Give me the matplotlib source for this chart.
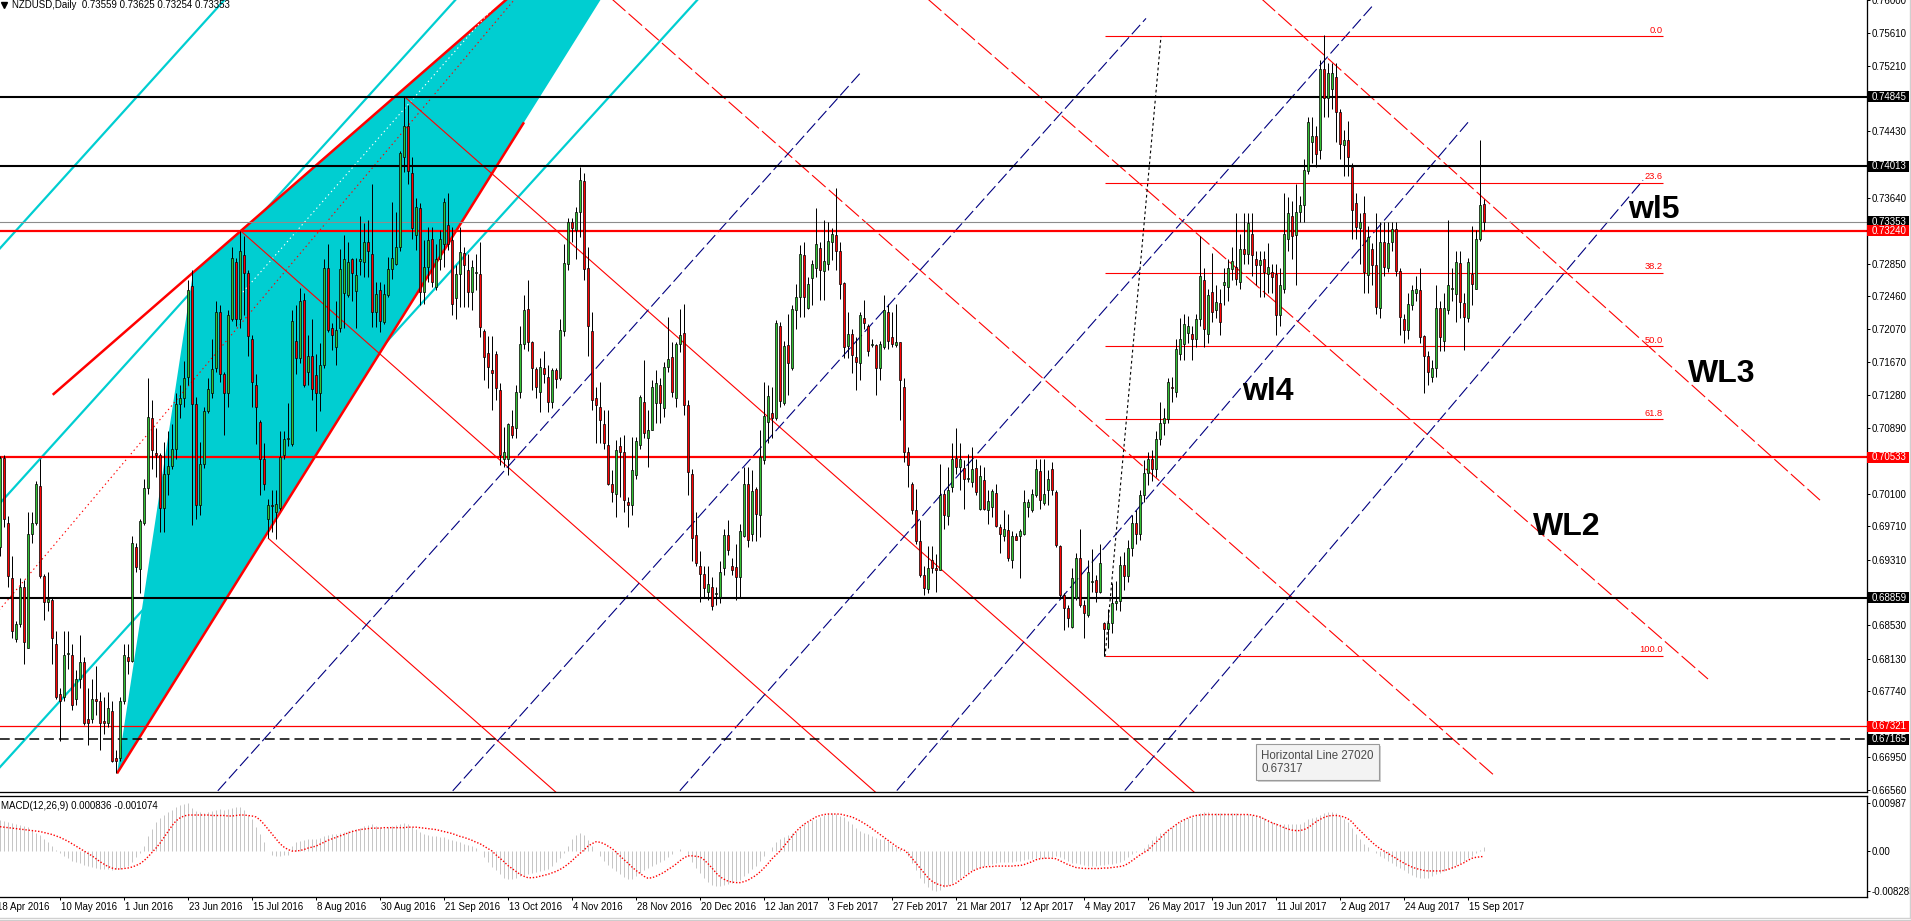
import numpy as np
import matplotlib
matplotlib.use("Agg")
import matplotlib.pyplot as plt
import matplotlib.transforms as mtrans
from matplotlib.patches import Polygon, Rectangle
from matplotlib.lines import Line2D

# ---------------- data (prices in pips, bar 1 = 19 Apr 2016) ----------------
opens = [
    6946, 7053, 6975, 6909, 6836, 6854, 6899, 6825, 6962, 6975,
    7019, 6912, 6880, 6883, 6830, 6770, 6767, 6818, 6817, 6765,
    6789, 6809, 6741, 6741, 6765, 6762, 6738, 6736, 6750, 6694,
    6694, 6762, 6815, 6810, 6946, 6920, 6975, 7017, 7101, 7059,
    7056, 6993, 7033, 7043, 7064, 7117, 7124, 7150, 7258, 7117,
    6996, 7046, 7109, 7130, 7160, 7227, 7153, 7130, 7219, 7287,
    7219, 7295, 7274, 7195, 7140, 7096, 7051, 6980, 6996, 6988,
    6993, 7056, 7075, 7069, 7193, 7172, 7241, 7156, 7174, 7152,
    7130, 7164, 7280, 7208, 7185, 7208, 7250, 7248, 7290, 7252,
    7288, 7287, 7311, 7297, 7227, 7253, 7215, 7247, 7278, 7285,
    7305, 7412, 7449, 7393, 7319, 7351, 7251, 7281, 7315, 7257,
    7291, 7309, 7331, 7313, 7244, 7272, 7298, 7277, 7251, 7274,
    7273, 7205, 7178, 7158, 7177, 7134, 7052, 7052, 7091, 7088,
    7132, 7189, 7231, 7191, 7159, 7132, 7160, 7150, 7120, 7158,
    7148, 7205, 7285, 7335, 7325, 7347, 7384, 7280, 7205, 7124,
    7114, 7093, 7068, 7022, 7010, 7067, 7060, 7000, 6997, 7032,
    7068, 7120, 7076, 7086, 7118, 7140, 7113, 7162, 7173, 7124,
    7189, 7202, 7116, 7033, 6961, 6924, 6914, 6893, 6899, 6890,
    6887, 6921, 6961, 6923, 6922, 6910, 6960, 7021, 6962, 7016,
    6985, 7050, 7096, 7107, 7100, 7211, 7118, 7188, 7160, 7229,
    7245, 7295, 7232, 7268, 7280, 7304, 7276, 7284, 7311, 7319,
    7300, 7262, 7186, 7201, 7173, 7166, 7220, 7210, 7188, 7188,
    7160, 7185, 7227, 7197, 7188, 7191, 7138, 7060, 7021, 6990,
    6953, 6913, 6896, 6931, 6921, 6919, 7010, 6983, 7018, 7053,
    7042, 7041, 7028, 7024, 7041, 6992, 7026, 6991, 6994, 7011,
    6970, 6959, 6967, 6931, 6959, 6959, 6962, 6994, 6990, 7008,
    7037, 6999, 7014, 7040, 7012, 6947, 6889, 6873, 6851, 6885,
    6933, 6877, 6865, 6905, 6907, 6893, 6856, 6848, 6855, 6879,
    6882, 6925, 6912, 6945, 6975, 6962, 7008, 7035, 7052, 7040,
    7075, 7095, 7099, 7137, 7132, 7177, 7189, 7202, 7201, 7195,
    7219, 7265, 7201, 7251, 7229, 7238, 7260, 7257, 7279, 7281,
    7263, 7303, 7297, 7321, 7291, 7283, 7290, 7273, 7275, 7273,
    7223, 7255, 7314, 7342, 7319, 7347, 7355, 7396, 7430, 7437,
    7421, 7518, 7483, 7494, 7508, 7466, 7427, 7433, 7400, 7357,
    7327, 7346, 7271, 7303, 7283, 7232, 7311, 7280, 7311, 7326,
    7276, 7219, 7206, 7235, 7250, 7254, 7198, 7175, 7150, 7160,
    7232, 7193, 7230, 7255, 7249, 7286, 7238, 7220, 7272, 7255,
    7315, 7356,
]
highs = [
    7055, 7056, 6983, 6935, 6858, 6909, 6907, 6988, 6988, 7025,
    7052, 6914, 6917, 6885, 6846, 6778, 6846, 6846, 6830, 6799,
    6841, 6815, 6778, 6788, 6804, 6773, 6767, 6773, 6762, 6704,
    6767, 6830, 6830, 6959, 6951, 6980, 7027, 7148, 7122, 7088,
    7059, 7072, 7085, 7093, 7130, 7140, 7169, 7266, 7277, 7125,
    7072, 7114, 7148, 7195, 7240, 7235, 7156, 7229, 7305, 7292,
    7324, 7318, 7277, 7200, 7153, 7098, 7070, 7004, 7014, 7014,
    7085, 7085, 7119, 7229, 7235, 7256, 7250, 7200, 7219, 7177,
    7190, 7290, 7308, 7214, 7240, 7303, 7319, 7311, 7292, 7292,
    7342, 7334, 7337, 7380, 7263, 7263, 7261, 7293, 7359, 7347,
    7420, 7484, 7475, 7413, 7363, 7357, 7313, 7329, 7329, 7309,
    7325, 7363, 7369, 7329, 7283, 7329, 7305, 7297, 7289, 7297,
    7311, 7207, 7199, 7199, 7181, 7142, 7090, 7094, 7110, 7140,
    7211, 7247, 7265, 7193, 7162, 7172, 7181, 7164, 7160, 7160,
    7219, 7309, 7339, 7339, 7353, 7401, 7393, 7305, 7227, 7138,
    7144, 7110, 7110, 7038, 7074, 7078, 7080, 7006, 7078, 7078,
    7128, 7170, 7110, 7146, 7158, 7148, 7168, 7221, 7191, 7191,
    7231, 7237, 7122, 7040, 6988, 6942, 6923, 6923, 6911, 6899,
    6929, 6968, 6978, 6933, 6950, 6974, 7042, 7042, 7038, 7018,
    7086, 7144, 7140, 7138, 7218, 7215, 7193, 7225, 7235, 7261,
    7307, 7311, 7269, 7289, 7351, 7311, 7337, 7335, 7327, 7375,
    7311, 7263, 7227, 7207, 7197, 7227, 7241, 7213, 7195, 7189,
    7193, 7247, 7237, 7227, 7237, 7191, 7148, 7066, 7024, 7016,
    6978, 6923, 6947, 6947, 6938, 7046, 7014, 7042, 7070, 7088,
    7070, 7050, 7058, 7066, 7052, 7044, 7042, 7014, 7016, 7022,
    6974, 6990, 6986, 6965, 6963, 6968, 7014, 7004, 7016, 7052,
    7052, 7052, 7038, 7048, 7014, 6949, 6891, 6877, 6921, 6939,
    6968, 6883, 6931, 6944, 6913, 6950, 6857, 6872, 6903, 6906,
    6935, 6940, 6955, 6985, 6990, 7015, 7050, 7060, 7062, 7085,
    7120, 7112, 7148, 7150, 7195, 7220, 7225, 7222, 7210, 7225,
    7318, 7280, 7255, 7298, 7260, 7255, 7280, 7290, 7305, 7345,
    7320, 7345, 7345, 7345, 7300, 7300, 7300, 7310, 7285, 7285,
    7280, 7370, 7365, 7360, 7380, 7366, 7410, 7460, 7460, 7450,
    7528, 7558, 7525, 7525, 7525, 7470, 7445, 7455, 7405, 7370,
    7345, 7366, 7330, 7310, 7345, 7335, 7335, 7335, 7335, 7335,
    7280, 7225, 7250, 7260, 7270, 7280, 7200, 7180, 7170, 7260,
    7240, 7250, 7337, 7280, 7300, 7300, 7250, 7292, 7330, 7325,
    7433, 7362,
]
lows = [
    6935, 6970, 6899, 6838, 6833, 6851, 6807, 6825, 6951, 6972,
    6909, 6859, 6870, 6807, 6765, 6715, 6762, 6801, 6752, 6757,
    6778, 6733, 6710, 6736, 6746, 6704, 6723, 6731, 6689, 6676,
    6691, 6759, 6794, 6809, 6917, 6891, 6972, 7010, 7040, 7030,
    6964, 6964, 7009, 7040, 7051, 7101, 7114, 7140, 6972, 6980,
    6985, 7041, 7106, 7124, 7155, 7143, 7080, 7114, 7216, 7211,
    7208, 7224, 7174, 7114, 7069, 7009, 7014, 6957, 6964, 6956,
    6991, 7051, 7067, 7067, 7153, 7166, 7138, 7140, 7122, 7085,
    7109, 7160, 7203, 7182, 7164, 7203, 7208, 7245, 7240, 7208,
    7271, 7269, 7269, 7209, 7209, 7203, 7213, 7245, 7267, 7283,
    7300, 7395, 7380, 7315, 7301, 7235, 7237, 7263, 7257, 7253,
    7277, 7281, 7301, 7223, 7219, 7233, 7233, 7233, 7229, 7253,
    7197, 7146, 7136, 7110, 7122, 7044, 7042, 7032, 7076, 7076,
    7124, 7183, 7181, 7134, 7124, 7108, 7142, 7108, 7112, 7136,
    7146, 7199, 7277, 7311, 7291, 7317, 7265, 7174, 7110, 7070,
    7070, 7064, 7020, 7000, 6982, 7006, 6988, 6970, 6984, 7028,
    7064, 7076, 7042, 7086, 7094, 7094, 7102, 7155, 7126, 7114,
    7179, 7104, 7008, 6929, 6924, 6881, 6887, 6883, 6871, 6877,
    6879, 6913, 6937, 6913, 6883, 6885, 6958, 6946, 6954, 6954,
    6958, 7046, 7070, 7076, 7098, 7114, 7116, 7128, 7158, 7207,
    7221, 7221, 7231, 7235, 7269, 7241, 7241, 7277, 7289, 7277,
    7243, 7172, 7172, 7154, 7134, 7146, 7207, 7174, 7185, 7128,
    7146, 7183, 7183, 7185, 7185, 7098, 7048, 7018, 6986, 6950,
    6911, 6889, 6891, 6915, 6893, 6919, 6968, 6972, 7012, 7034,
    7014, 6992, 7024, 7018, 7008, 6990, 6990, 6974, 6982, 6970,
    6939, 6953, 6929, 6921, 6955, 6909, 6961, 6982, 6988, 7006,
    6992, 6996, 6996, 7008, 6946, 6887, 6847, 6851, 6849, 6883,
    6875, 6837, 6863, 6893, 6881, 6891, 6816, 6826, 6844, 6871,
    6870, 6895, 6905, 6935, 6950, 6955, 7000, 7020, 7025, 7030,
    7068, 7080, 7095, 7120, 7125, 7170, 7170, 7190, 7170, 7185,
    7210, 7185, 7190, 7215, 7220, 7200, 7235, 7240, 7265, 7260,
    7255, 7285, 7285, 7270, 7260, 7245, 7245, 7250, 7250, 7200,
    7210, 7250, 7300, 7290, 7260, 7335, 7335, 7392, 7405, 7400,
    7410, 7460, 7460, 7470, 7430, 7410, 7390, 7390, 7315, 7315,
    7285, 7250, 7250, 7260, 7225, 7220, 7270, 7275, 7300, 7270,
    7200, 7190, 7195, 7230, 7240, 7190, 7130, 7140, 7144, 7150,
    7180, 7180, 7225, 7240, 7215, 7220, 7182, 7215, 7235, 7255,
    7312, 7325,
]
closes = [
    7053, 6980, 6912, 6846, 6854, 6899, 6833, 6962, 6975, 7022,
    6912, 6880, 6884, 6838, 6767, 6762, 6817, 6819, 6757, 6789,
    6809, 6736, 6736, 6765, 6762, 6736, 6736, 6754, 6691, 6690,
    6762, 6817, 6810, 6951, 6922, 6977, 7017, 7102, 7062, 7056,
    6993, 7033, 7043, 7064, 7117, 7124, 7148, 7253, 7117, 6996,
    7046, 7109, 7135, 7159, 7227, 7153, 7130, 7223, 7292, 7219,
    7300, 7274, 7198, 7143, 7114, 7051, 7022, 6996, 6995, 6998,
    7054, 7075, 7077, 7216, 7172, 7240, 7140, 7174, 7135, 7130,
    7164, 7280, 7206, 7200, 7206, 7279, 7290, 7287, 7274, 7271,
    7290, 7311, 7300, 7227, 7249, 7217, 7249, 7279, 7292, 7305,
    7417, 7449, 7396, 7327, 7353, 7251, 7281, 7313, 7263, 7291,
    7314, 7359, 7309, 7237, 7272, 7299, 7283, 7251, 7281, 7275,
    7209, 7173, 7162, 7154, 7136, 7056, 7060, 7093, 7080, 7132,
    7189, 7230, 7191, 7160, 7137, 7161, 7153, 7120, 7158, 7147,
    7206, 7286, 7335, 7327, 7347, 7385, 7279, 7211, 7122, 7116,
    7098, 7070, 7022, 7012, 7062, 7060, 7002, 6997, 7038, 7073,
    7126, 7082, 7086, 7138, 7142, 7118, 7162, 7171, 7132, 7189,
    7200, 7116, 7036, 6957, 6927, 6914, 6897, 6902, 6876, 6891,
    6917, 6961, 6943, 6919, 6910, 6966, 7022, 6955, 7013, 6986,
    7054, 7103, 7127, 7101, 7214, 7121, 7187, 7166, 7231, 7245,
    7297, 7245, 7261, 7284, 7309, 7277, 7288, 7312, 7321, 7300,
    7261, 7185, 7201, 7176, 7168, 7223, 7214, 7181, 7189, 7160,
    7189, 7229, 7193, 7189, 7191, 7146, 7060, 7044, 6990, 6953,
    6913, 6897, 6921, 6921, 6919, 7009, 6985, 7015, 7052, 7042,
    7052, 7027, 7029, 7040, 7012, 7031, 6992, 7001, 7013, 6971,
    6962, 6968, 6933, 6959, 6955, 6966, 7000, 7000, 7010, 7040,
    7002, 7010, 7028, 7014, 6949, 6889, 6873, 6861, 6909, 6933,
    6877, 6867, 6917, 6906, 6893, 6927, 6848, 6855, 6879, 6882,
    6925, 6912, 6945, 6975, 6962, 7008, 7035, 7052, 7040, 7075,
    7095, 7100, 7144, 7136, 7183, 7195, 7213, 7210, 7195, 7219,
    7270, 7207, 7247, 7227, 7239, 7215, 7263, 7280, 7288, 7267,
    7303, 7297, 7333, 7295, 7283, 7289, 7275, 7281, 7269, 7223,
    7259, 7320, 7346, 7318, 7347, 7355, 7397, 7454, 7437, 7416,
    7518, 7483, 7513, 7513, 7466, 7428, 7433, 7412, 7349, 7329,
    7335, 7275, 7317, 7283, 7233, 7311, 7281, 7310, 7326, 7276,
    7221, 7206, 7237, 7254, 7255, 7197, 7175, 7156, 7160, 7232,
    7197, 7232, 7259, 7256, 7287, 7239, 7221, 7287, 7261, 7315,
    7355, 7335,
]
# MACD(12,26,9) in units of 1e-4
macd_main = [
    64, 62, 60, 58, 56, 54, 52, 50, 44, 38,
    32, 25, 18, 10, 3, -5, -10, -15, -20, -22,
    -25, -28, -30, -33, -35, -36, -37, -38, -39, -38,
    -36, -33, -30, -22, -12, -5, 10, 30, 45, 60,
    68, 75, 80, 85, 90, 94, 97, 99, 88, 82,
    80, 78, 80, 82, 85, 86, 84, 86, 88, 90,
    90, 84, 75, 65, 50, 35, 18, 0, -8, -10,
    -10, -9, -8, 10, 18, 20, 22, 25, 25, 24,
    26, 30, 33, 34, 35, 37, 40, 42, 44, 45,
    48, 52, 54, 55, 52, 50, 48, 50, 52, 54,
    56, 58, 56, 50, 46, 40, 35, 33, 31, 30,
    29, 28, 25, 22, 20, 18, 15, 12, 10, 6,
    0, -12, -22, -32, -40, -48, -56, -58, -57, -55,
    -52, -50, -48, -46, -44, -42, -40, -36, -30, -22,
    -15, -5, 10, 25, 32, 38, 32, 22, 10, 0,
    -10, -20, -28, -35, -42, -48, -54, -58, -57, -52,
    -45, -40, -35, -30, -26, -22, -18, -12, -6, 0,
    5, 0, -10, -22, -35, -46, -56, -64, -70, -73,
    -72, -70, -68, -65, -62, -60, -52, -45, -38, -30,
    -20, -10, 0, 8, 18, 24, 28, 32, 36, 40,
    48, 55, 60, 64, 66, 70, 74, 78, 78, 76,
    72, 70, 62, 55, 48, 42, 38, 35, 30, 27,
    25, 24, 20, 12, 8, 4, 0, -10, -25, -40,
    -55, -65, -74, -80, -83, -80, -75, -70, -65, -60,
    -55, -50, -45, -40, -35, -32, -30, -28, -26, -24,
    -22, -22, -22, -22, -20, -20, -18, -17, -16, -15,
    -14, -14, -13, -12, -10, -12, -16, -20, -24, -25,
    -26, -28, -30, -30, -30, -29, -28, -27, -26, -25,
    -22, -18, -12, -6, -2, 0, 6, 14, 22, 30,
    36, 40, 45, 50, 55, 60, 65, 68, 70, 74,
    78, 80, 80, 79, 79, 78, 78, 78, 78, 78,
    77, 76, 76, 75, 75, 72, 68, 64, 60, 58,
    56, 55, 55, 55, 55, 56, 60, 65, 68, 70,
    75, 78, 80, 81, 78, 72, 65, 60, 48, 35,
    25, 15, 8, 0, -5, -10, -15, -20, -25, -30,
    -35, -40, -45, -50, -54, -56, -56, -55, -52, -48,
    -45, -42, -38, -34, -28, -25, -20, -15, -10, -5,
    2, 8,
]
macd_signal = [
    50, 49, 48, 47, 46, 45, 44, 43, 42, 41,
    40, 38, 36, 34, 31, 28, 24, 20, 15, 10,
    5, 0, -5, -10, -16, -22, -27, -32, -35, -37,
    -37, -36, -35, -33, -30, -26, -20, -12, -3, 6,
    16, 28, 40, 52, 62, 68, 72, 74, 74, 74,
    74, 74, 74, 73, 73, 73, 73, 72, 72, 73,
    74, 74, 73, 72, 70, 64, 55, 45, 35, 25,
    15, 8, 3, 0, 0, 1, 3, 6, 8, 10,
    14, 18, 22, 25, 28, 31, 34, 37, 40, 42,
    44, 45, 46, 47, 47, 47, 48, 48, 48, 48,
    48, 48, 49, 49, 49, 48, 47, 46, 45, 44,
    42, 40, 38, 36, 33, 30, 28, 25, 22, 18,
    15, 10, 5, 0, -8, -15, -22, -30, -36, -42,
    -48, -52, -55, -55, -54, -52, -50, -48, -45, -42,
    -38, -33, -27, -20, -12, -5, 2, 10, 15, 19,
    18, 15, 10, 5, -2, -10, -18, -25, -33, -40,
    -46, -52, -56, -55, -52, -48, -44, -38, -33, -27,
    -20, -14, -10, -10, -11, -12, -18, -26, -35, -45,
    -53, -58, -62, -64, -65, -65, -63, -60, -55, -50,
    -43, -35, -26, -16, -8, 0, 10, 20, 30, 40,
    48, 55, 60, 65, 70, 73, 75, 76, 76, 76,
    76, 74, 72, 70, 66, 62, 57, 52, 46, 40,
    34, 28, 22, 16, 10, 5, 2, -5, -15, -25,
    -35, -45, -55, -62, -67, -70, -72, -72, -70, -66,
    -60, -54, -48, -42, -38, -35, -33, -32, -32, -31,
    -31, -31, -31, -31, -30, -30, -28, -25, -22, -18,
    -16, -15, -15, -15, -16, -20, -24, -28, -31, -34,
    -35, -36, -36, -36, -36, -36, -35, -35, -34, -33,
    -32, -30, -26, -20, -14, -8, -3, 2, 10, 18,
    26, 34, 42, 48, 54, 60, 64, 68, 71, 73,
    74, 75, 75, 75, 75, 75, 75, 75, 75, 75,
    75, 75, 75, 74, 72, 70, 66, 62, 58, 55,
    52, 48, 45, 43, 42, 42, 44, 48, 54, 60,
    65, 69, 72, 73, 73, 72, 70, 66, 60, 50,
    42, 34, 26, 18, 11, 5, 0, -5, -10, -15,
    -20, -25, -29, -33, -36, -38, -40, -41, -41, -41,
    -41, -40, -38, -35, -32, -28, -24, -19, -15, -13,
    -12, -11,
]

date_ticks = [0, 16, 32, 48, 64, 80, 96, 112, 128, 144, 160, 176, 192, 208,
              224, 240, 256, 272, 288, 304, 320, 336, 352, 368]
date_labels = ["18 Apr 2016", "10 May 2016", "1 Jun 2016", "23 Jun 2016", "15 Jul 2016",
               "8 Aug 2016", "30 Aug 2016", "21 Sep 2016", "13 Oct 2016", "4 Nov 2016",
               "28 Nov 2016", "20 Dec 2016", "12 Jan 2017", "3 Feb 2017", "27 Feb 2017",
               "21 Mar 2017", "12 Apr 2017", "4 May 2017", "26 May 2017", "19 Jun 2017",
               "11 Jul 2017", "2 Aug 2017", "24 Aug 2017", "15 Sep 2017"]
# scale labels that are not hidden under the price boxes
price_ticks = [0.76000, 0.75610, 0.75210, 0.74430, 0.73640, 0.72850, 0.72460, 0.72070,
               0.71670, 0.71280, 0.70890, 0.70100, 0.69710, 0.69310, 0.68530, 0.68130,
               0.67740, 0.66950, 0.66560]
macd_ticks = [0.00987, 0.0, -0.008285]
macd_tick_labels = ["0.00987", "0.00", "-0.008285"]

# horizontal levels
black_levels = [0.74845, 0.74013, 0.68859]
red_levels = [0.73240, 0.70533]
red_thin_level = 0.67321
dashed_level = 0.67165
bid_level = 0.73353

# fibonacci retracement
fib_levels = [0.75566, 0.73818, 0.72737, 0.71863, 0.70989, 0.68160]
fib_labels = ["0.0", "23.6", "38.2", "50.0", "61.8", "100.0"]
fib_span = (277.25, 416.75)
fib_trend = [(277.25, 0.68150), (291.25, 0.75566)]

# trend objects: (bar, price) end points
cyan_lines = [[(0, 0.72980), (59, 0.76102)],
              [(0, 0.69934), (116.7, 0.76100)],
              [(0, 0.66780), (177.2, 0.76100)]]
red_channel = [[(14.18, 0.71282), (129.83, 0.76100)],
               [(30.25, 0.66756), (132.0, 0.74539)]]
channel_fill = [(30.25, 0.66756), (49.25, 0.72741), (179.4, 0.78165)]
red_dotted = [(0, 0.68663), (129.5, 0.76000)]
white_dotted = [(61, 0.72470), (126, 0.76000)]
red_thin_lines = [[(61, 0.73249), (223, 0.66400)],
                  [(68, 0.69570), (143.1, 0.66400)],
                  [(102.25, 0.74840), (302.7, 0.66400)]]
red_dashed_lines = [[(151.9, 0.76100), (375, 0.66714)],
                    [(230.85, 0.76100), (428, 0.67885)],
                    [(314.4, 0.76100), (456, 0.70023)]]
blue_dashed_lines = [[(52.67, 0.66400), (216, 0.75124)],
                     [(111.4, 0.66400), (287.5, 0.75781)],
                     [(168.2, 0.66400), (344, 0.75924)],
                     [(222.5, 0.66400), (368, 0.74539)],
                     [(279.5, 0.66400), (411.75, 0.73846)]]
wave_labels = [("wl5", 414.5, 0.73392), ("WL3", 431.4, 0.71433),
               ("WL2", 392.6, 0.69605), ("wl4", 318.0, 0.71218)]

# ---------------- styling ----------------
plt.rcParams['font.family'] = ['Liberation Sans', 'DejaVu Sans']
plt.rcParams['lines.scale_dashes'] = False
PX = 0.72  # one pixel in points at 100 dpi
CYAN = '#00CED1'
BULL = '#32C032'
W, H = 1911, 921

fig = plt.figure(figsize=(W / 100, H / 100), dpi=100)
fig.patch.set_facecolor('white')
ax = fig.add_axes([0, 129 / H, 1867 / W, 792 / H])
mx = fig.add_axes([0, 24 / H, 1867 / W, 101 / H], sharex=ax)

for a in (ax, mx):
    a.set_facecolor('white')
    a.spines['left'].set_visible(False)
    for s in ('right', 'bottom', 'top'):
        a.spines[s].set_linewidth(1.3 * PX)
        a.spines[s].set_color('black')
ax.spines['top'].set_visible(False)
ax.set_xlim(1, 467.75)
ax.set_ylim(0.665345, 0.76001)

# ---------------- objects behind the candles ----------------
ax.add_patch(Polygon(channel_fill, closed=True, facecolor=CYAN, edgecolor='none', zorder=1))

def seg(a, pts, **kw):
    (x0, y0), (x1, y1) = pts
    a.plot([x0, x1], [y0, y1], solid_capstyle='butt', **kw)

for pts in cyan_lines:
    seg(ax, pts, color=CYAN, lw=1.6, zorder=2)
for pts in red_channel:
    seg(ax, pts, color='red', lw=1.8, zorder=2)
seg(ax, red_dotted, color='red', lw=0.8, ls=(0, (1, 2.2)), zorder=2)
seg(ax, white_dotted, color='white', lw=0.8, ls=(0, (1, 2.2)), zorder=2)
for pts in red_thin_lines:
    seg(ax, pts, color='red', lw=0.8, zorder=2)
for pts in red_dashed_lines:
    seg(ax, pts, color='red', lw=0.8, ls=(0, (13, 3)), zorder=2)
for pts in blue_dashed_lines:
    seg(ax, pts, color='#000080', lw=0.8, ls=(0, (9, 3)), zorder=2)

for v in black_levels:
    ax.axhline(v, color='black', lw=1.5, zorder=2)
for v in red_levels:
    ax.axhline(v, color='red', lw=1.6, zorder=2)
ax.axhline(red_thin_level, color='red', lw=0.9, zorder=2)
ax.axhline(dashed_level, color='black', lw=1.1, ls=(0, (7, 3.6)), zorder=2)
ax.axhline(bid_level, color='#8c8c8c', lw=0.8, zorder=2)

ax.hlines(fib_levels, fib_span[0], fib_span[1], color='red', lw=0.8, zorder=2)
for v, lab in zip(fib_levels, fib_labels):
    ax.annotate(lab, (fib_span[1], v), xytext=(0, 1.2), textcoords='offset points',
                ha='right', va='bottom', color='red', fontsize=6.7, zorder=5)
seg(ax, fib_trend, color='black', lw=0.8, ls=(0, (2, 2)), zorder=2)

# ---------------- candles ----------------
x = np.arange(1, len(closes) + 1)
o = np.array(opens) / 1e4
hi = np.array(highs) / 1e4
lo = np.array(lows) / 1e4
c = np.array(closes) / 1e4
bull = c >= o
ax.vlines(x, lo, hi, color='black', lw=PX, zorder=3)
ax.bar(x[bull], (c - o)[bull], bottom=o[bull], width=0.68, color=BULL,
       edgecolor='black', linewidth=0.7 * PX, zorder=4)
ax.bar(x[~bull], (o - c)[~bull], bottom=c[~bull], width=0.68, color='red',
       edgecolor='black', linewidth=0.7 * PX, zorder=4)

# ---------------- wave labels and tooltip ----------------
for txt, bx, by in wave_labels:
    ax.text(bx, by, txt, fontsize=23, fontweight='bold', ha='center', va='baseline',
            color='black', zorder=6)

tip = "Horizontal Line 27020\n0.67317"
shadow_tf = ax.transData + mtrans.ScaledTranslation(2 / 100, -2 / 100, fig.dpi_scale_trans)
ax.text(316.25, 0.67041, tip, transform=shadow_tf, fontsize=8.3, color='none',
        ha='left', va='top', linespacing=1.1, zorder=6,
        bbox=dict(boxstyle='square,pad=0.45', fc='#cfcfcf', ec='none'))
ax.text(316.25, 0.67041, tip, fontsize=8.3, color='#4a4a4a', ha='left', va='top',
        linespacing=1.1, zorder=7,
        bbox=dict(boxstyle='square,pad=0.45', fc='#f3f3f3', ec='#9a9a9a', lw=0.8))

# ---------------- price axis ----------------
ax.yaxis.tick_right()
ax.set_yticks(price_ticks)
ax.set_yticklabels([f"{v:.5f}" for v in price_ticks])
ax.tick_params(axis='y', length=3 * PX, width=PX, pad=2 * PX, labelsize=7, colors='black')
ax.tick_params(axis='x', bottom=False, labelbottom=False)

scale_tf = mtrans.blended_transform_factory(ax.transAxes, ax.transData)
box_h = 11 / 8371.0        # 11 px tall in price units
box_w = 42 / 1867.0        # 42 px wide in axes units
text_tf = scale_tf + mtrans.ScaledTranslation(4.5 / 100, 0, fig.dpi_scale_trans)

def price_box(v, fc):
    ax.add_patch(Rectangle((1.0, v - box_h / 2), box_w, box_h, transform=scale_tf,
                           facecolor=fc, edgecolor='none', clip_on=False, zorder=8))
    ax.text(1, v, f"{v:.5f}", transform=text_tf, fontsize=7, color='white', ha='left',
            va='center', clip_on=False, zorder=9)

price_box(bid_level, 'black')
for v in black_levels:
    price_box(v, 'black')
for v in red_levels:
    price_box(v, 'red')
price_box(red_thin_level, 'red')
price_box(dashed_level, 'black')

# ---------------- MACD panel ----------------
m_main = np.array(macd_main) / 1e4
m_sig = np.array(macd_signal) / 1e4
mx.vlines(x, 0, m_main, color='#c0c0c0', lw=0.9 * PX, zorder=2)
mx.plot(x, m_sig, color='red', lw=1.0, ls=(0, (1, 1.3)), zorder=3)
mx.set_ylim(-0.00946, 0.01131)
mx.yaxis.tick_right()
mx.set_yticks(macd_ticks)
mx.set_yticklabels(macd_tick_labels)
mx.tick_params(axis='y', length=3 * PX, width=PX, pad=2 * PX, labelsize=7)
mx.set_xticks(date_ticks[1:])
mx.tick_params(axis='x', length=3 * PX, width=PX, labelbottom=False)
mx.set_xlim(1, 467.75)

date_tf = (mtrans.blended_transform_factory(mx.transData, mx.transAxes)
           + mtrans.ScaledTranslation(1 / 100, -5 / 100, fig.dpi_scale_trans))
for t, lab in zip(date_ticks, date_labels):
    mx.text(t, 0, lab, transform=date_tf, ha='left', va='top', fontsize=7, clip_on=False)

# ---------------- header texts and frame ----------------
fig.text(12 / W, 1 - 5.5 / H, "NZDUSD,Daily  0.73559 0.73625 0.73254 0.73353",
         fontsize=7, ha='left', va='center')
fig.add_artist(Line2D([3.5 / W], [1 - 5 / H], marker='v', markersize=4, color='black',
                      transform=fig.transFigure))
fig.text(1 / W, 1 - 806 / H, "MACD(12,26,9) 0.000836 -0.001074",
         fontsize=7, ha='left', va='center')
fig.add_artist(Line2D([1909.5 / W] * 2, [3 / H, 1], color='#d0d0d0', lw=1,
                      transform=fig.transFigure))
fig.add_artist(Line2D([0, 1909.5 / W], [3 / H] * 2, color='#d0d0d0', lw=1,
                      transform=fig.transFigure))
fig.add_artist(Line2D([0, 1], [0.5 / H] * 2, color='black', lw=1,
                      transform=fig.transFigure))

fig.savefig("out.png", dpi=100)
